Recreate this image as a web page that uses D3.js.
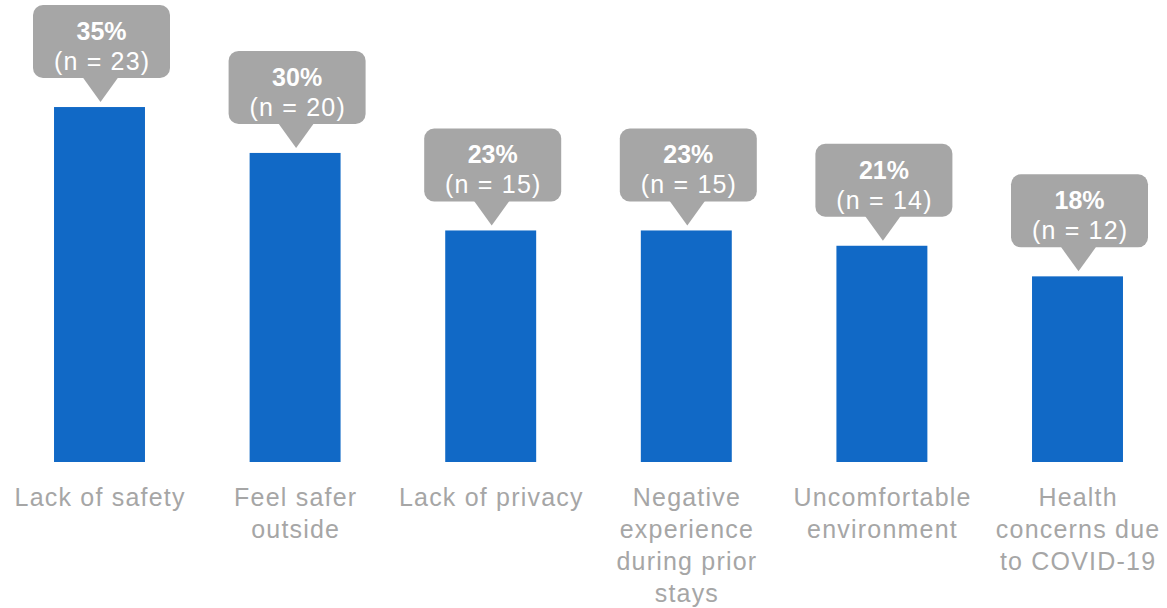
<!DOCTYPE html>
<html>
<head>
<meta charset="utf-8">
<script src="https://cdn.jsdelivr.net/npm/d3@7"></script>
<style>
  html, body { margin: 0; padding: 0; background: #ffffff; }
  svg { display: block; }
</style>
</head>
<body>
<svg id="chart" width="1167" height="608"></svg>
<script>
// ---- data ----
const categories = [
  "Lack of safety",
  "Feel safer\noutside",
  "Lack of privacy",
  "Negative\nexperience\nduring prior\nstays",
  "Uncomfortable\nenvironment",
  "Health\nconcerns due\nto COVID-19"
];
const values = [34.8, 30.3, 22.7, 22.7, 21.2, 18.2];   // percent (bar heights)
const pctLabels = ["35%", "30%", "23%", "23%", "21%", "18%"];
const nCounts = [23, 20, 15, 15, 14, 12];

// ---- layout ----
const W = 1167, H = 608;
const baseY = 462;
const barColor = "#1169c6";
const calloutColor = "#a6a6a6";
const labelColor = "#a6a6a6";

const svg = d3.select("#chart");

const x = d3.scaleBand()
  .domain(categories)
  .range([1.7, 1175.3])
  .paddingInner(0.535)
  .paddingOuter(0.2675);

const y = d3.scaleLinear()
  .domain([0, 40])
  .range([baseY, baseY - 408]);

const data = categories.map((c, i) => ({
  cat: c, v: values[i], pct: pctLabels[i], n: nCounts[i]
}));

// bars
svg.append("g").selectAll("rect")
  .data(data)
  .join("rect")
  .attr("x", d => x(d.cat))
  .attr("y", d => y(d.v))
  .attr("width", x.bandwidth())
  .attr("height", d => baseY - y(d.v))
  .attr("fill", barColor);

// callouts
const boxW = 137, boxH = 73, gapTop = 102, tipGap = 5;
const cg = svg.append("g").selectAll("g")
  .data(data)
  .join("g")
  .attr("transform", d => {
    const cx = x(d.cat) + x.bandwidth() / 2 + 2;
    return `translate(${cx},${y(d.v) - gapTop})`;
  });

cg.append("rect")
  .attr("x", -boxW / 2)
  .attr("y", 0)
  .attr("width", boxW)
  .attr("height", boxH)
  .attr("rx", 10)
  .attr("fill", calloutColor);

cg.append("path")
  .attr("d", `M${-19},${boxH - 1} L${17},${boxH - 1} L${-1},${gapTop - tipGap} Z`)
  .attr("fill", calloutColor);

cg.append("text")
  .attr("x", 0)
  .attr("y", 35)
  .attr("text-anchor", "middle")
  .attr("font-family", "'Liberation Sans', Arial, sans-serif")
  .attr("font-weight", "bold")
  .attr("font-size", 25)
  .attr("fill", "#ffffff")
  .text(d => d.pct);

cg.append("text")
  .attr("x", 0.6)
  .attr("y", 65)
  .attr("text-anchor", "middle")
  .attr("font-family", "'Liberation Sans', Arial, sans-serif")
  .attr("font-size", 25)
  .attr("letter-spacing", 1.2)
  .attr("fill", "#ffffff")
  .text(d => `(n = ${d.n})`);

// category labels
const xAxis = svg.append("g")
  .attr("transform", `translate(0,${baseY})`)
  .call(d3.axisBottom(x).tickSize(0).tickFormat(""));
xAxis.select(".domain").remove();

xAxis.selectAll(".tick").each(function(d) {
  const t = d3.select(this).append("text")
    .attr("text-anchor", "middle")
    .attr("font-family", "'Liberation Sans', Arial, sans-serif")
    .attr("font-size", 25)
    .attr("letter-spacing", 1.2)
    .attr("fill", labelColor);
  d.split("\n").forEach((line, i) => {
    t.append("tspan")
      .attr("x", 0.6)
      .attr("y", 44 + i * 32)
      .text(line);
  });
});
</script>
</body>
</html>
